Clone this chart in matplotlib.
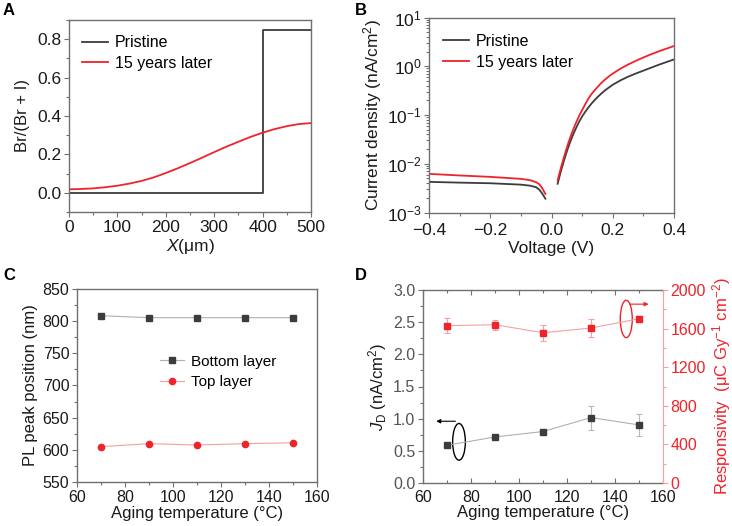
import numpy as np
import matplotlib
matplotlib.use("Agg")
import matplotlib.pyplot as plt
from matplotlib.patches import Ellipse
from matplotlib.ticker import MultipleLocator, LogLocator, NullFormatter, FormatStrFormatter

plt.rcParams['font.family'] = ['Liberation Sans', 'DejaVu Sans']
plt.rcParams['mathtext.fontset'] = 'custom'
plt.rcParams['mathtext.rm'] = 'Liberation Sans'
plt.rcParams['mathtext.it'] = 'Liberation Sans:italic'
plt.rcParams['mathtext.bf'] = 'Liberation Sans:bold'
plt.rcParams['axes.unicode_minus'] = True

# ---------------- data ----------------
# Panel A
a_x_pristine = [0, 400, 400, 500]
a_y_pristine = [0.0, 0.0, 0.85, 0.85]
a_x_aged = [0, 25, 50, 75, 100, 125, 150, 175, 200, 225, 250, 275, 300,
            325, 350, 375, 400, 425, 450, 475, 500]
a_y_aged = [0.018, 0.020, 0.023, 0.029, 0.037, 0.048, 0.062, 0.080, 0.103,
            0.128, 0.155, 0.183, 0.212, 0.240, 0.266, 0.291, 0.313, 0.332,
            0.347, 0.358, 0.363]

# Panel B (reverse and forward branches)
b_v_rev = [-0.4, -0.3, -0.2, -0.1, -0.07, -0.05, -0.04, -0.03, -0.02]
b_j_rev_pristine = [4.25e-3, 4.1e-3, 3.98e-3, 3.73e-3, 3.55e-3, 3.29e-3, 2.95e-3, 2.43e-3, 1.92e-3]
b_j_rev_aged = [6.2e-3, 5.75e-3, 5.38e-3, 4.9e-3, 4.6e-3, 4.18e-3, 3.8e-3, 3.14e-3, 2.4e-3]
b_v_fwd = [0.02, 0.03, 0.04, 0.05, 0.06, 0.07, 0.08, 0.09, 0.10, 0.11, 0.12,
           0.13, 0.14, 0.15, 0.16, 0.17, 0.18, 0.19, 0.20, 0.225, 0.25, 0.275,
           0.30, 0.325, 0.35, 0.375, 0.40]
b_j_fwd_pristine = [3.89e-3, 6.76e-3, 1.12e-2, 1.78e-2, 2.69e-2, 3.89e-2, 5.37e-2,
                    7.24e-2, 9.33e-2, 0.116, 0.141, 0.170, 0.200, 0.232, 0.266,
                    0.302, 0.339, 0.376, 0.417, 0.513, 0.610, 0.708, 0.813,
                    0.933, 1.072, 1.216, 1.380]
b_j_fwd_aged = [4.57e-3, 7.94e-3, 1.32e-2, 2.14e-2, 3.31e-2, 4.90e-2, 6.92e-2,
                9.55e-2, 0.126, 0.166, 0.214, 0.266, 0.316, 0.372, 0.437,
                0.501, 0.569, 0.638, 0.708, 0.891, 1.084, 1.288, 1.514,
                1.758, 2.018, 2.291, 2.600]

# Panel C
c_temp = [70, 90, 110, 130, 150]
c_bottom = [808.5, 805.4, 805.4, 805.4, 805.4]
c_top = [605.0, 609.6, 607.5, 609.6, 611.0]

# Panel D
d_temp = [70, 90, 110, 130, 150]
d_jd = [0.586, 0.716, 0.80, 1.017, 0.903]
d_jd_err = [0.02, 0.02, 0.03, 0.187, 0.176]
d_resp = [1630, 1640, 1557, 1606, 1702]
d_resp_err = [76, 52, 83, 93, 31]

# ---------------- style ----------------
BLACK = '#3c3c3c'
RED = '#f0222a'
SPINE = '#707070'
TXT = '#1a1a1a'
PINK = '#f6a0a0'

fig = plt.figure(figsize=(7.32, 5.26), dpi=100)

def style_ax(ax, fs=12, spine=SPINE, direction='out'):
    for s in ax.spines.values():
        s.set_color(spine)
        s.set_linewidth(1.0)
    ax.tick_params(which='both', direction=direction, colors=spine, labelcolor=TXT,
                   labelsize=fs, top=False, right=False, pad=2)
    ax.tick_params(which='major', length=3.5, width=0.8)
    ax.tick_params(which='minor', length=2, width=0.8)

LEG = dict(frameon=False, borderaxespad=0, borderpad=0, handletextpad=0.4)

# Panel A
axA = fig.add_axes([69/732, 1-212/526, (311-69)/732, (212-20)/526])
axA.plot(a_x_pristine, a_y_pristine, color=BLACK, lw=1.3, label='Pristine')
axA.plot(a_x_aged, a_y_aged, color=RED, lw=1.3, label='15 years later')
axA.set_xlim(0, 500)
axA.set_ylim(-0.1, 0.9)
axA.xaxis.set_major_locator(MultipleLocator(100))
axA.xaxis.set_minor_locator(MultipleLocator(50))
axA.set_yticks([0.0, 0.2, 0.4, 0.6, 0.8])
axA.yaxis.set_minor_locator(MultipleLocator(0.1))
style_ax(axA, 12.5)
axA.set_xlabel(r'$X$(μm)', fontsize=12.5, color=TXT, labelpad=2)
axA.set_ylabel('Br/(Br + I)', fontsize=12, color=TXT, labelpad=5)
axA.legend(loc='upper left', bbox_to_anchor=(0.054, 0.92), fontsize=11.5,
           handlelength=1.65, labelspacing=0.35, **LEG)

# Panel B
axB = fig.add_axes([429/732, 1-212.5/526, (674-429)/732, (212.5-17.5)/526])
axB.plot(b_v_rev, b_j_rev_pristine, color=BLACK, lw=1.3)
axB.plot(b_v_fwd, b_j_fwd_pristine, color=BLACK, lw=1.3, label='Pristine')
axB.plot(b_v_rev, b_j_rev_aged, color=RED, lw=1.3)
axB.plot(b_v_fwd, b_j_fwd_aged, color=RED, lw=1.3, label='15 years later')
axB.set_yscale('log')
axB.set_xlim(-0.4, 0.4)
axB.set_ylim(1e-3, 1e1)
axB.xaxis.set_minor_locator(MultipleLocator(0.1))
axB.yaxis.set_major_locator(LogLocator(base=10, numticks=10))
axB.yaxis.set_minor_locator(LogLocator(base=10, subs=np.arange(2, 10), numticks=10))
axB.yaxis.set_minor_formatter(NullFormatter())
axB.set_xticks([-0.4, -0.2, 0.0, 0.2, 0.4])
axB.set_xticklabels(['\u22120.4', '\u22120.2', '0.0', '0.2', '0.4'])
style_ax(axB, 12.5)
axB.tick_params(axis='x', pad=4)
axB.set_xlabel('Voltage (V)', fontsize=12.5, color=TXT, labelpad=2)
axB.set_ylabel(r'Current density (nA/cm$^2$)', fontsize=12.5, color=TXT, labelpad=2)
axB.legend(loc='upper left', bbox_to_anchor=(0.057, 0.915), fontsize=11.5,
           handlelength=1.65, labelspacing=0.35, **LEG)

# Panel C
axC = fig.add_axes([77/732, 1-482/526, (317-77)/732, (482-289)/526])
axC.plot(c_temp, c_bottom, color='#b0b0b0', lw=0.8, marker='s', ms=4.5,
         mfc=BLACK, mec=BLACK, label='Bottom layer')
axC.plot(c_temp, c_top, color=PINK, lw=0.8, marker='o', ms=4.5,
         mfc=RED, mec=RED, label='Top layer')
axC.set_xlim(60, 160)
axC.set_ylim(550, 850)
axC.xaxis.set_major_locator(MultipleLocator(20))
axC.xaxis.set_minor_locator(MultipleLocator(10))
axC.yaxis.set_major_locator(MultipleLocator(50))
axC.yaxis.set_minor_locator(MultipleLocator(25))
style_ax(axC, 11.5)
axC.set_xlabel('Aging temperature (°C)', fontsize=12, color=TXT, labelpad=1)
axC.set_ylabel('PL peak position (nm)', fontsize=12, color=TXT, labelpad=3)
axC.legend(loc='upper left', bbox_to_anchor=(0.346, 0.66), fontsize=11,
           handlelength=1.6, labelspacing=0.45, **LEG)

# Panel D
axD = fig.add_axes([423/732, 1-483/526, (663-423)/732, (483-290)/526])
axD2 = axD.twinx()
axD.errorbar(d_temp, d_jd, yerr=d_jd_err, color='#b0b0b0', lw=0.8, marker='s',
             ms=4, mfc=BLACK, mec=BLACK, ecolor='#b8b8b8', elinewidth=0.8,
             capsize=2.5, capthick=0.8)
axD2.errorbar(d_temp, d_resp, yerr=d_resp_err, color=PINK, lw=0.8, marker='s',
              ms=4, mfc=RED, mec=RED, ecolor=PINK, elinewidth=0.8,
              capsize=2.5, capthick=0.8)
axD.set_xlim(60, 160)
axD.set_ylim(0, 3.0)
axD2.set_ylim(0, 2000)
axD.xaxis.set_major_locator(MultipleLocator(20))
axD.xaxis.set_minor_locator(MultipleLocator(10))
axD.yaxis.set_major_locator(MultipleLocator(0.5))
axD.yaxis.set_minor_locator(MultipleLocator(0.25))
axD2.yaxis.set_major_locator(MultipleLocator(400))
axD2.yaxis.set_minor_locator(MultipleLocator(200))
axD.yaxis.set_major_formatter(FormatStrFormatter('%.1f'))
style_ax(axD, 11.5)
axD.spines['right'].set_visible(False)
axD.tick_params(axis='x', which='both', direction='in', top=True, pad=5)
axD.tick_params(axis='y', labelcolor='#555555')
for s in axD2.spines.values():
    s.set_visible(False)
axD2.spines['right'].set_visible(True)
axD2.spines['right'].set_color(PINK)
axD2.tick_params(which='both', direction='out', colors=PINK, labelcolor=RED,
                 labelsize=11.5, pad=2)
axD2.tick_params(which='major', length=3.5, width=0.8)
axD2.tick_params(which='minor', length=2, width=0.8)
axD.set_xlabel('Aging temperature (°C)', fontsize=12, color=TXT, labelpad=0)
axD.set_ylabel(r'$J_{\mathrm{D}}$ (nA/cm$^2$)', fontsize=12, color=TXT, labelpad=3)
axD2.set_ylabel(r'Responsivity  (μC Gy$^{-1}$ cm$^{-2}$)', fontsize=12,
                color=RED, labelpad=3)

# ellipses and arrows (left-axis data coordinates)
axD.add_patch(Ellipse((75, 0.64), 5.3, 0.57, fill=False, ec='black', lw=1.0))
axD.annotate('', xy=(65.5, 0.96), xytext=(73.5, 0.96),
             arrowprops=dict(arrowstyle='-|>', color='black', lw=0.8,
                             mutation_scale=6, shrinkA=0, shrinkB=0))
axD.add_patch(Ellipse((144.7, 2.55), 5.0, 0.58, fill=False, ec=RED, lw=1.0))
axD.annotate('', xy=(154, 2.78), xytext=(146, 2.78),
             arrowprops=dict(arrowstyle='-|>', color=RED, lw=0.8,
                             mutation_scale=6, shrinkA=0, shrinkB=0))

# panel letters
for lab, x, y in [('A', 3, 3), ('B', 355, 3), ('C', 3, 268), ('D', 355, 268)]:
    fig.text(x/732, 1-y/526, lab, fontsize=12, fontweight='bold', color='black',
             ha='left', va='top')

fig.savefig('out.png', dpi=100)
